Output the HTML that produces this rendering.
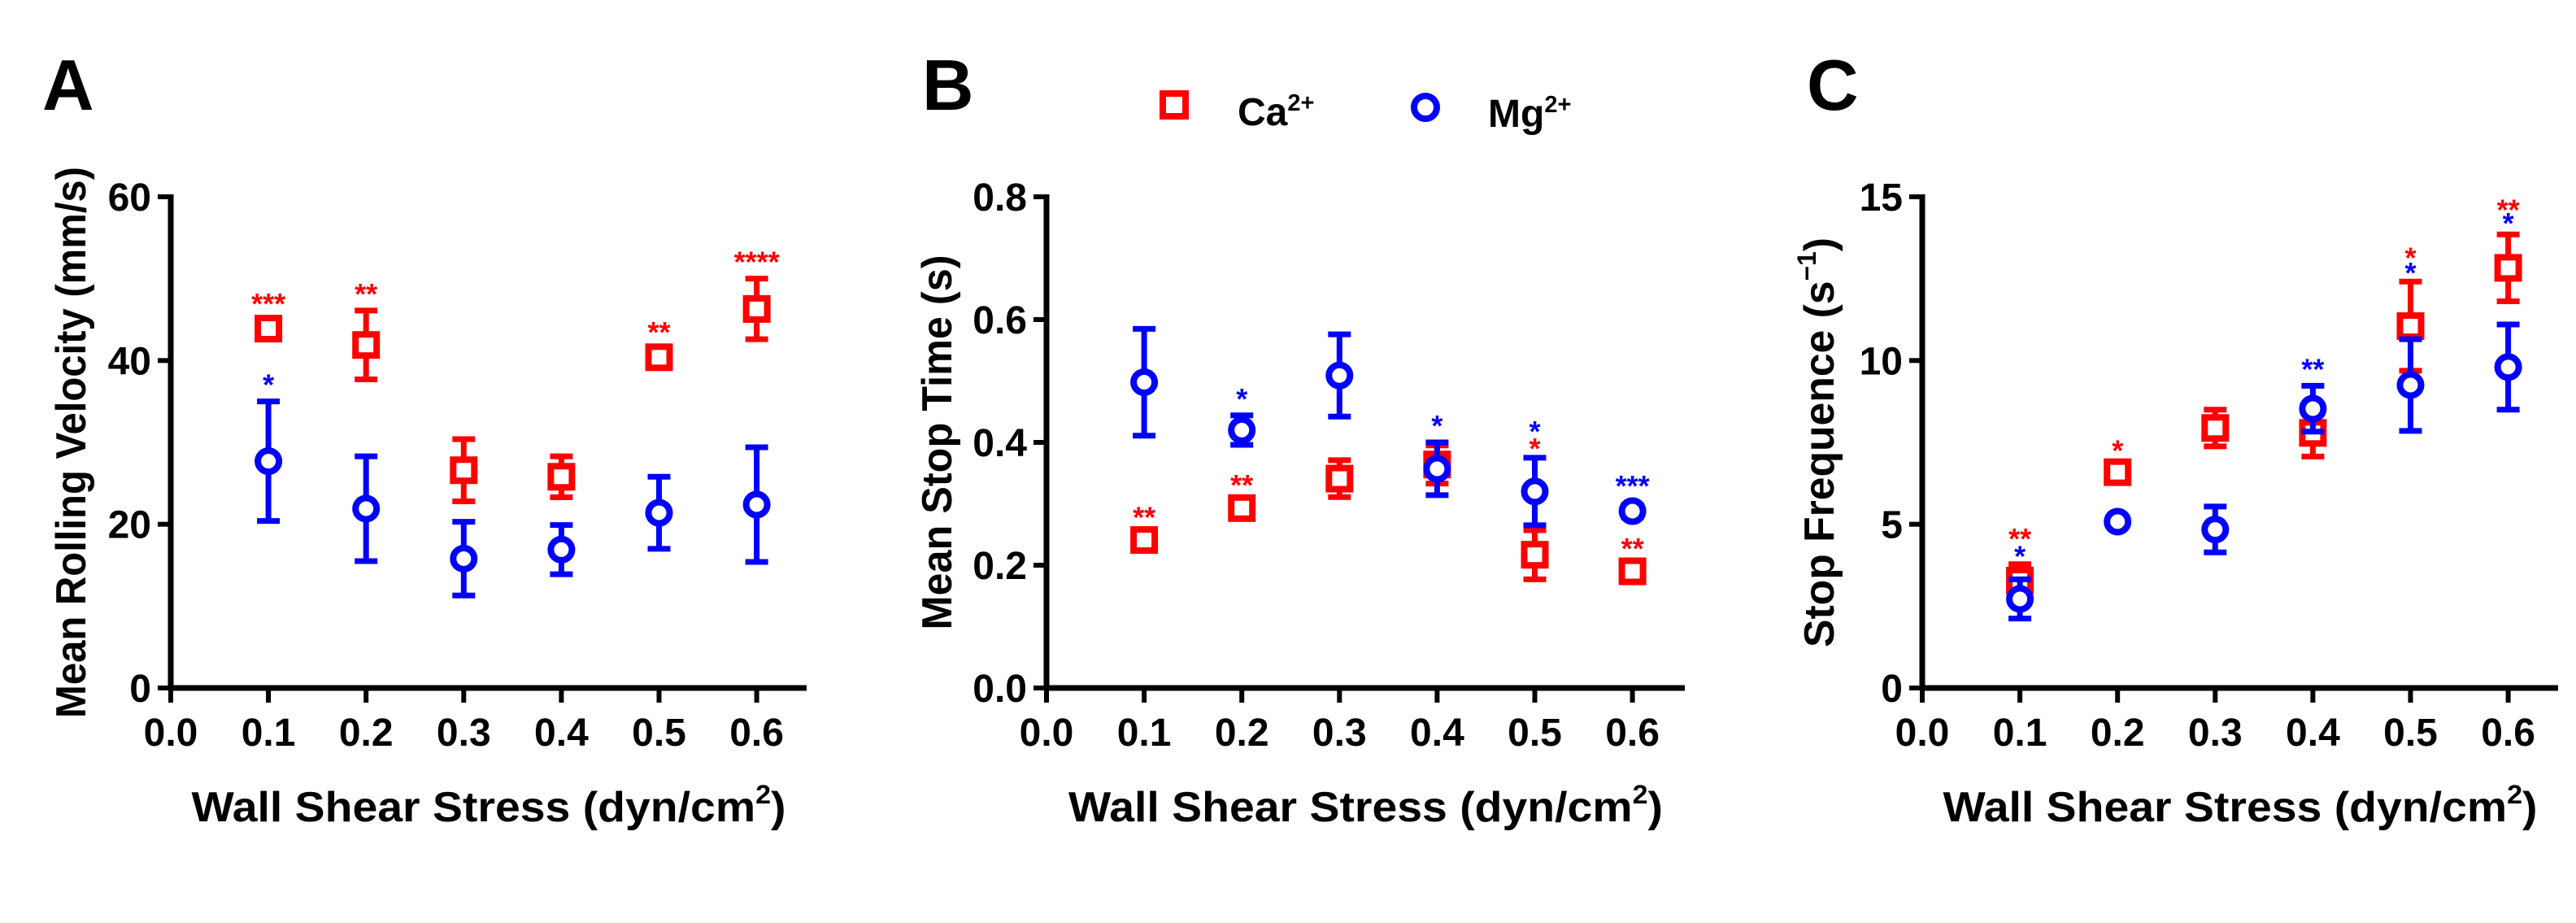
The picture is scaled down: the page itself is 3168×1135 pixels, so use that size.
<!DOCTYPE html>
<html><head><meta charset="utf-8"><style>
html,body{margin:0;padding:0;background:#fff;}
svg{display:block;}
text{font-family:"Liberation Sans",Arial,sans-serif;font-weight:bold;}
</style></head><body>
<svg id="fig" width="3168" height="1135" viewBox="0 0 3168 1135" xmlns="http://www.w3.org/2000/svg">
<g>
<rect x="1430" y="115" width="28" height="28" fill="none" stroke="#ff0000" stroke-width="8"/>
<text x="1522" y="154" font-size="48" fill="#000">Ca<tspan font-size="29" dy="-18">2+</tspan></text>
<circle cx="1753" cy="132" r="14" fill="none" stroke="#0000ff" stroke-width="8"/>
<text x="1830" y="156" font-size="48" fill="#000">Mg<tspan font-size="29" dy="-18">2+</tspan></text>
</g>
</svg>
<script>
// x categories (shear stress)
const xCats = [0.1, 0.2, 0.3, 0.4, 0.5, 0.6];
const xTickLabels = ["0.0","0.1","0.2","0.3","0.4","0.5","0.6"];
// Panel A: mean rolling velocity
const aCaMean = [43.9, 41.9, 26.6, 25.8, 40.4, 46.3];
const aCaErr  = [1.0, 4.2, 3.8, 2.5, 1.0, 3.7];
const aMgMean = [27.7, 21.9, 15.8, 16.9, 21.4, 22.4];
const aMgErr  = [7.3, 6.4, 4.5, 3.0, 4.4, 7.0];
const aCaStars = ["***","**","","","**","****"];
const aMgStars = ["*","","","","",""];
const aYTicks = [0, 20, 40, 60];
// Panel B: mean stop time
const bCaMean = [0.241, 0.293, 0.341, 0.364, 0.217, 0.19];
const bCaErr  = [0.01, 0.01, 0.03, 0.031, 0.04, 0.01];
const bMgMean = [0.498, 0.42, 0.509, 0.357, 0.32, 0.288];
const bMgErr  = [0.087, 0.024, 0.067, 0.043, 0.055, 0.01];
const bCaStars = ["**","**","","","*","**"];
const bMgStars = ["","*","","*","*","***"];
const bYTicks = [0, 0.2, 0.4, 0.6, 0.8];
const bYTickLabels = ["0.0","0.2","0.4","0.6","0.8"];
// Panel C: stop frequency
const cCaMean = [3.28, 6.59, 7.94, 7.79, 11.05, 12.83];
const cCaErr  = [0.5, 0.15, 0.56, 0.72, 1.36, 1.02];
const cMgMean = [2.72, 5.08, 4.84, 8.53, 9.25, 9.8];
const cMgErr  = [0.6, 0.12, 0.7, 0.7, 1.4, 1.3];
const cCaStars = ["**","*","","","*","**"];
const cMgStars = ["*","","","**","*","*"];
const cYTicks = [0, 5, 10, 15];

const NS = "http://www.w3.org/2000/svg";
const svg = document.getElementById("fig");
function mk(tag, attrs, parent){
  const e = document.createElementNS(NS, tag);
  for (const k in attrs) e.setAttribute(k, attrs[k]);
  (parent||svg).appendChild(e);
  return e;
}
const RED = "#ff0000", BLUE = "#0000ff";

function panel(cfg){
  const g = mk("g", {});
  
  
  const x0 = cfg.x0, yB = 846, yT = 242, xEnd = cfg.xEnd;
  const sx = v => x0 + v * 1201;
  const sy = v => yB - (v / cfg.ymax) * (yB - yT);
  const L = mk("text", {x: cfg.letterX, y: 135, "font-size": 88, fill: "#000"}, g);
  L.textContent = cfg.letter;
  
  
  const ya = mk("line", {x1: x0, y1: yT - 3, x2: x0, y2: yB + 3, stroke: "#000", "stroke-width": 7}, g);
  
  
  const xa = mk("line", {x1: x0 - 3, y1: yB, x2: xEnd, y2: yB, stroke: "#000", "stroke-width": 7}, g);
  
  
  cfg.yTicks.forEach((t, i) => {
    const y = sy(t);
    const tk = mk("line", {x1: x0 - 16, y1: y, x2: x0, y2: y, stroke: "#000", "stroke-width": 6}, g);
    
    
    const tl = mk("text", {x: x0 - 24, y: y + 17, "font-size": 48, "text-anchor": "end", fill: "#000"}, g);
    tl.textContent = cfg.yTickLabels ? cfg.yTickLabels[i] : String(t);
    
    
  });
  xTickLabels.forEach((lab, i) => {
    const x = sx(i * 0.1);
    const tk = mk("line", {x1: x, y1: yB, x2: x, y2: yB + 18, stroke: "#000", "stroke-width": 6}, g);
    
    
    const tl = mk("text", {x: x, y: 917, "font-size": 48, "text-anchor": "middle", fill: "#000"}, g);
    tl.textContent = lab;
    
    
  });
  const xt = mk("text", {x: (x0 + xEnd) / 2, y: 1010, "font-size": 52, "text-anchor": "middle", fill: "#000",
    textLength: 731, lengthAdjust: "spacingAndGlyphs"}, g);
  xt.innerHTML = 'Wall Shear Stress (dyn/cm<tspan font-size="32" dy="-22">2</tspan><tspan dy="22">)</tspan>';
  
  
  const ytt = mk("text", {x: 0, y: 0, "font-size": 52, "text-anchor": "middle", fill: "#000",
    textLength: cfg.yTitleLen, lengthAdjust: "spacingAndGlyphs",
    transform: "translate(" + cfg.yTitleX + "," + ((yB + yT) / 2) + ") rotate(-90)"}, g);
  ytt.innerHTML = cfg.yTitle;
  
  

  function series(means, errs, stars, color, shape, sname, starOffset){
    means.forEach((m, i) => {
      const x = sx(xCats[i]);
      const y = sy(m), yt = sy(m + errs[i]), yb = sy(m - errs[i]);
      const eb = mk("g", {}, g);
      
      
      mk("line", {x1: x, y1: yt, x2: x, y2: yb, stroke: color, "stroke-width": 7}, eb);
      mk("line", {x1: x - 14, y1: yt, x2: x + 14, y2: yt, stroke: color, "stroke-width": 7}, eb);
      mk("line", {x1: x - 14, y1: yb, x2: x + 14, y2: yb, stroke: color, "stroke-width": 7}, eb);
      let mkr;
      if (shape === "sq") mkr = mk("rect", {x: x - 13, y: y - 13, width: 26, height: 26, fill: "#fff", stroke: color, "stroke-width": 8}, g);
      else mkr = mk("circle", {cx: x, cy: y, r: 13, fill: "#fff", stroke: color, "stroke-width": 8}, g);
      
      
      if (stars[i]) {
        const off = starOffset ? starOffset[i] : 0;
        const st = mk("text", {x: x, y: yt - 8 + off, "font-size": 36, "text-anchor": "middle", fill: color}, g);
        st.textContent = stars[i];
        
        
      }
    });
  }
  series(cfg.caM, cfg.caE, cfg.caS, RED, "sq", "ca-series", cfg.caOff);
  series(cfg.mgM, cfg.mgE, cfg.mgS, BLUE, "ci", "mg-series", cfg.mgOff);
}

panel({name: "panel-a", letter: "A", letterX: 52, x0: 210, xEnd: 992, ymax: 60,
  yTicks: aYTicks, yTitleX: 105, yTitleLen: 678, yTitle: "Mean Rolling Velocity (mm/s)",
  caM: aCaMean, caE: aCaErr, caS: aCaStars, mgM: aMgMean, mgE: aMgErr, mgS: aMgStars});
panel({name: "panel-b", letter: "B", letterX: 1134, x0: 1287, xEnd: 2072, ymax: 0.8,
  yTicks: bYTicks, yTickLabels: bYTickLabels, yTitleX: 1170, yTitleLen: 461, yTitle: "Mean Stop Time (s)",
  caM: bCaMean, caE: bCaErr, caS: bCaStars, mgM: bMgMean, mgE: bMgErr, mgS: bMgStars,
  caOff: [0, 0, 0, 0, -80, 0], mgOff: [0, 0, 0, 0, -12, -3]});
panel({name: "panel-c", letter: "C", letterX: 2222, x0: 2364, xEnd: 3146, ymax: 15,
  yTicks: cYTicks, yTitleX: 2255, yTitleLen: 504,
  yTitle: 'Stop Frequence (s<tspan font-size="32" dy="-22">\u22121</tspan><tspan dy="22">)</tspan>',
  caM: cCaMean, caE: cCaErr, caS: cCaStars, mgM: cMgMean, mgE: cMgErr, mgS: cMgStars,
  caOff: [-11, 0, 0, 0, -9, -10], mgOff: [-8, 0, 0, 0, -61, -104]});
</script>
</body></html>
